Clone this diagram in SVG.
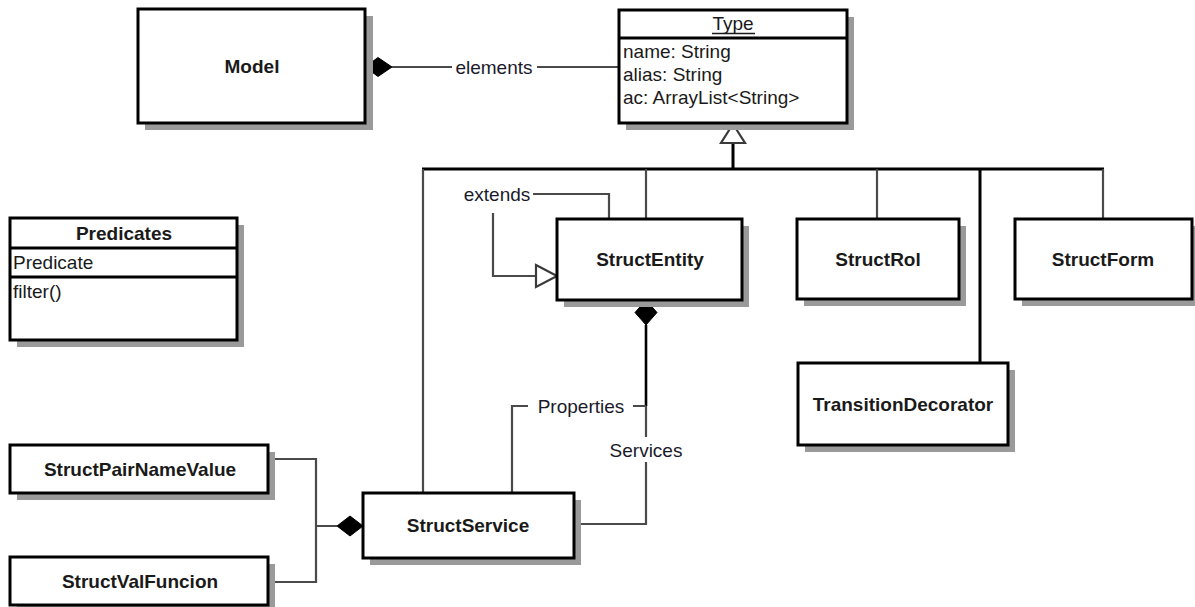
<svg xmlns="http://www.w3.org/2000/svg" width="1195" height="607" viewBox="0 0 1195 607">
  <style>
    .box { fill: #fff; stroke: #000; stroke-width: 3; }
    .shadow { fill: #9a9a9a; }
    .sep { stroke: #000; stroke-width: 3; }
    .name { font-family: "Liberation Sans", Arial, sans-serif; font-size: 19px; font-weight: bold; fill: #1a1a1a; text-anchor: middle; }
    .attr { font-family: "Liberation Sans", Arial, sans-serif; font-size: 19px; fill: #1a1a1a; }
    .lbl { font-family: "Liberation Sans", Arial, sans-serif; font-size: 19px; fill: #1a1a2a; text-anchor: middle; }
    .wire { fill: none; stroke: #4a4a4a; stroke-width: 2.2; }
    .bold { fill: none; stroke: #000; stroke-width: 3; }
    .comp { fill: #000; stroke: #000; stroke-width: 1; }
    .gen { fill: #fff; stroke: #3a3a3a; stroke-width: 2.2; }
  </style>

  <!-- connectors -->
  <g id="connectors">
    <!-- Model <>— Type -->
    <path class="wire" d="M392 67 H452 M537 67 H619"/>
    <polygon class="comp" points="365,67 378,57.5 392,67 378,76.5"/>
    <text class="lbl" x="494" y="74">elements</text>

    <!-- inheritance tree under Type -->
    <path class="bold" d="M733 143 V169 M422 169 H1104"/>
    <polygon class="gen" points="733,124 745,143 721,143"/>
    <path class="wire" d="M423 169 V493"/>
    <path class="wire" d="M646 169 V219"/>
    <path class="wire" d="M877 169 V219"/>
    <path class="bold" d="M980 169 V363"/>
    <path class="wire" d="M1103 169 V219"/>

    <!-- StructEntity self extends -->
    <path class="wire" d="M609 219 V194 H533"/>
    <text class="lbl" x="497" y="201">extends</text>
    <path class="wire" d="M493 213 V276 H536"/>
    <polygon class="gen" points="536,265 557,276 536,287"/>

    <!-- StructEntity <>— StructService -->
    <polygon class="comp" points="646,300 657,312.5 646,325 635,312.5"/>
    <path class="bold" d="M646 325 V406" style="stroke-width:2.6"/>
    <path class="wire" d="M646 406 V437 M646 462 V524 H574"/>
    <path class="wire" d="M646 406 H633 M528 406 H512 V493"/>
    <text class="lbl" x="581" y="413">Properties</text>
    <text class="lbl" x="646" y="457">Services</text>

    <!-- StructService <>— pair / function -->
    <path class="wire" d="M268 459 H316 V582 H268 M316 526 H337"/>
    <polygon class="comp" points="337,526 350,516 363,526 350,536"/>
  </g>

  <g id="Model">
    <rect class="shadow" x="145" y="16" width="228" height="114"/>
    <rect class="box" x="138" y="9" width="227" height="114"/>
    <text class="name" x="252" y="73">Model</text>
  </g>

  <g id="Type">
    <rect class="shadow" x="626" y="17" width="228" height="113"/>
    <rect class="box" x="619" y="10" width="228" height="113"/>
    <line class="sep" x1="619" y1="38" x2="847" y2="38"/>
    <text class="attr" x="733" y="30" text-anchor="middle">Type</text>
    <line x1="712" y1="33.5" x2="755" y2="33.5" stroke="#1a1a1a" stroke-width="1.3"/>
    <text class="attr" x="623" y="58">name: String</text>
    <text class="attr" x="623" y="81">alias: String</text>
    <text class="attr" x="623" y="104">ac: ArrayList&lt;String&gt;</text>
  </g>

  <g id="Predicates">
    <rect class="shadow" x="17" y="225" width="227" height="122"/>
    <rect class="box" x="10" y="218" width="227" height="122"/>
    <line class="sep" x1="10" y1="248" x2="237" y2="248"/>
    <line class="sep" x1="10" y1="277" x2="237" y2="277"/>
    <text class="name" x="124" y="240">Predicates</text>
    <text class="attr" x="13" y="269">Predicate</text>
    <text class="attr" x="13" y="298">filter()</text>
  </g>

  <g id="StructEntity">
    <rect class="shadow" x="564" y="226" width="185" height="81"/>
    <rect class="box" x="557" y="219" width="185" height="81"/>
    <text class="name" x="650" y="266">StructEntity</text>
  </g>

  <g id="StructRol">
    <rect class="shadow" x="804" y="226" width="162" height="80"/>
    <rect class="box" x="797" y="219" width="162" height="80"/>
    <text class="name" x="878" y="266">StructRol</text>
  </g>

  <g id="StructForm">
    <rect class="shadow" x="1022" y="226" width="177" height="80"/>
    <rect class="box" x="1015" y="219" width="177" height="80"/>
    <text class="name" x="1103" y="266">StructForm</text>
  </g>

  <g id="TransitionDecorator">
    <rect class="shadow" x="805" y="370" width="210" height="82"/>
    <rect class="box" x="798" y="363" width="210" height="82"/>
    <text class="name" x="903" y="411">TransitionDecorator</text>
  </g>

  <g id="StructPairNameValue">
    <rect class="shadow" x="17" y="452" width="258" height="48"/>
    <rect class="box" x="10" y="445" width="258" height="48"/>
    <text class="name" x="140" y="476">StructPairNameValue</text>
  </g>

  <g id="StructValFuncion">
    <rect class="shadow" x="17" y="564" width="258" height="48"/>
    <rect class="box" x="10" y="557" width="258" height="48"/>
    <text class="name" x="140" y="588">StructValFuncion</text>
  </g>

  <g id="StructService">
    <rect class="shadow" x="370" y="500" width="211" height="65"/>
    <rect class="box" x="363" y="493" width="211" height="65"/>
    <text class="name" x="468" y="532">StructService</text>
  </g>
</svg>
